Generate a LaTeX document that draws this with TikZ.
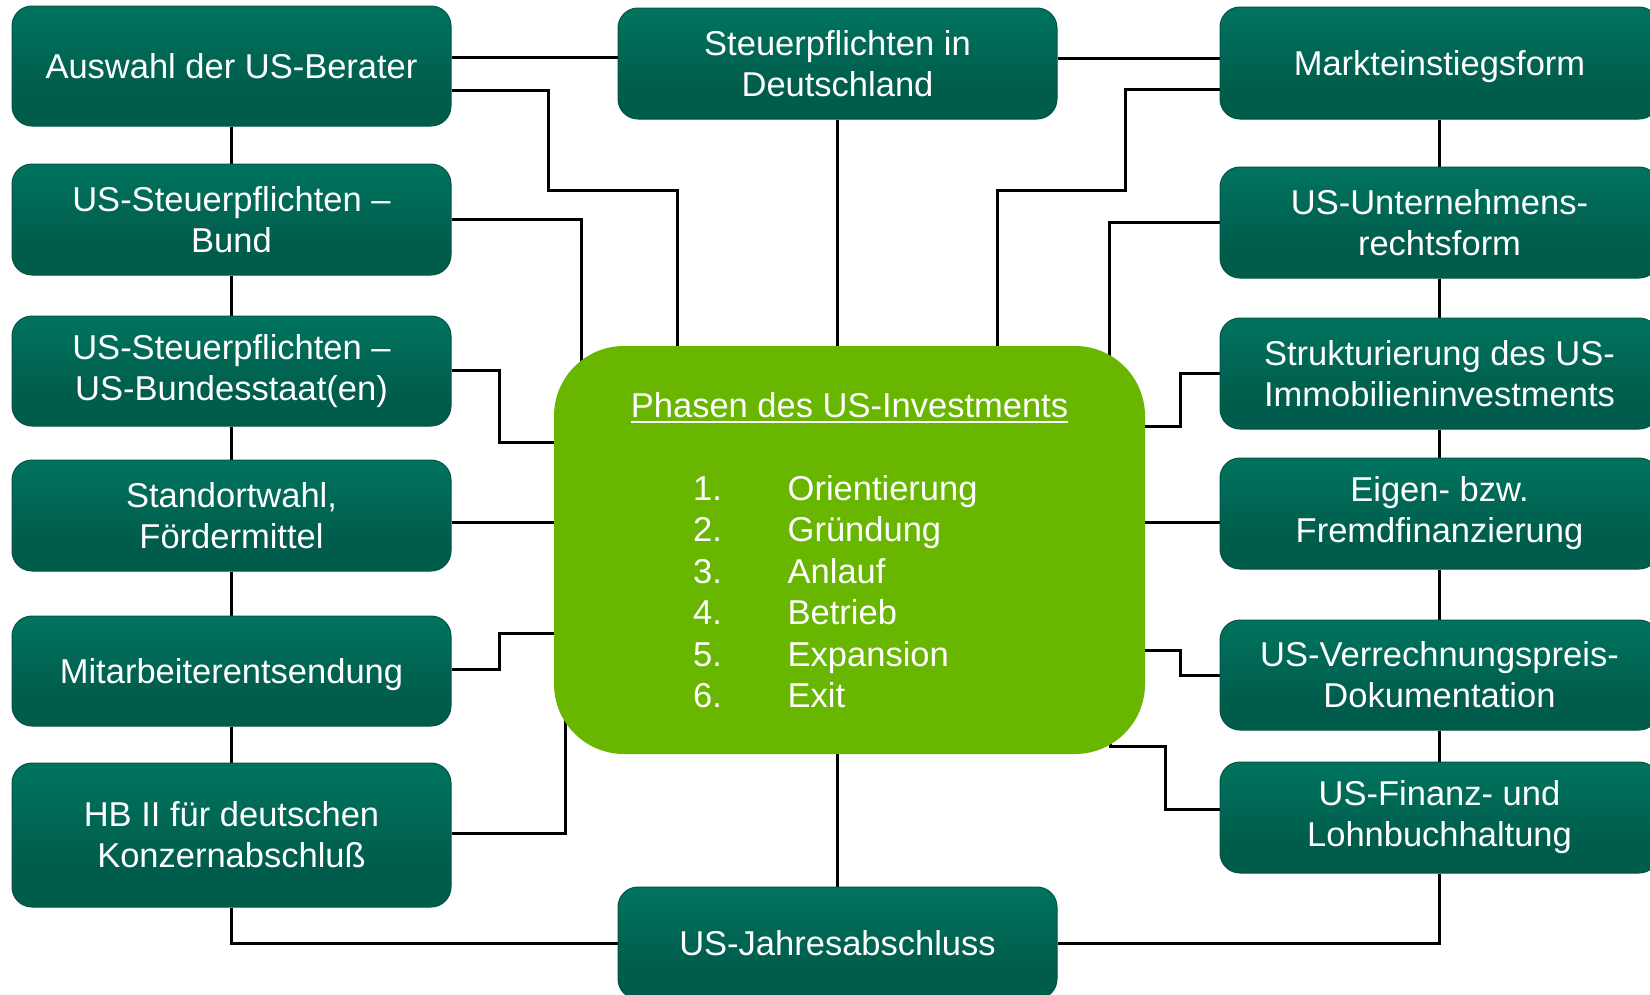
\documentclass[tikz,border=0pt]{standalone}
\usepackage{fontspec}
\setmainfont{Liberation Sans}
\usetikzlibrary{calc}
\pgfdeclarelayer{bg}
\pgfdeclarelayer{lines}
\pgfsetlayers{bg,lines,main}
\definecolor{tealtop}{RGB}{0,132,108}
\definecolor{tealbot}{RGB}{0,92,75}
\definecolor{tealedge}{RGB}{0,84,68}
\definecolor{phgreen}{RGB}{104,182,0}
\pgfdeclareverticalshading{tealgrad}{100bp}{color(0bp)=(tealbot); color(38bp)=(tealbot); color(100bp)=(tealtop)}
\begin{document}
\begin{tikzpicture}[x=1pt,y=-1pt,
  tbox/.style={rectangle, rounded corners=20pt, draw=tealedge, line width=1pt, shading=tealgrad, text=white, minimum width=439pt, inner sep=0pt, align=center, font=\fontsize{34.5}{41}\selectfont},
  conn/.style={line width=3pt, draw=black},
  vlink/.style={line width=2.3pt, draw=black},
  ctext/.style={text=white, inner sep=0pt, font=\fontsize{34.5}{41}\selectfont},
]
\useasboundingbox (0,0) rectangle (1650,994);
\begin{pgfonlayer}{bg}
\fill[white] (0,0) rectangle (1650,994);
\end{pgfonlayer}

% left column
\node[tbox, minimum height=120pt] (L1) at (231.5,66) {Auswahl der US-Berater};
\node[tbox, minimum height=111pt] (L2) at (231.5,219.5) {US-Steuerpflichten –\\Bund};
\node[tbox, minimum height=110pt] (L3) at (231.5,371) {US-Steuerpflichten –\\US-Bundesstaat(en)};
\node[tbox, minimum height=111pt] (L4) at (231.5,515.5) {Standortwahl,\\Fördermittel};
\node[tbox, minimum height=110pt, text depth=0pt] (L5) at (231.5,671) {Mitarbeiterentsendung};
\node[tbox, minimum height=144pt] (L6) at (231.5,835) {HB II für deutschen\\Konzernabschluß};
% middle column
\node[tbox, minimum height=111pt] (T) at (837.5,63.5) {Steuerpflichten in\\Deutschland};
\node[tbox, minimum height=112pt] (B) at (837.5,943) {US-Jahresabschluss};
% right column
\node[tbox, minimum height=112pt, text depth=0pt] (R1) at (1439.5,63) {Markteinstiegsform};
\node[tbox, minimum height=111pt] (R2) at (1439.5,222.5) {US-Unternehmens-\\rechtsform};
\node[tbox, minimum height=111pt] (R3) at (1439.5,373.5) {Strukturierung des US-\\Immobilieninvestments};
\node[tbox, minimum height=111pt] (R4) at (1439.5,513.5) {Eigen- bzw.\\Fremdfinanzierung};
\node[tbox, minimum height=110pt] (R5) at (1439.5,675) {US-Verrechnungspreis-\\Dokumentation};
\node[tbox, minimum height=111pt] (R6) at (1439.5,817.5) {US-Finanz- und\\Lohnbuchhaltung};

% centre
\node[fill=phgreen, rounded corners=70pt, minimum width=591pt, minimum height=408pt, inner sep=0pt] (C) at (849.5,550) {};
\node[ctext, anchor=base] (title) at (849.5,417) {Phasen des US-Investments};
\draw[white, line width=2.6pt] ($(title.base west)+(0,5)$) -- ($(title.base east)+(0,5)$);
\foreach \n/\t [count=\i] in {1./Orientierung, 2./Gründung, 3./Anlauf, 4./Betrieb, 5./Expansion, 6./Exit}{
  \node[ctext, anchor=base west] (num\i) at (693,{500+41.5*(\i-1)}) {\n};
  \node[ctext, anchor=base west] (item\i) at (787.5,{500+41.5*(\i-1)}) {\t};
}

\begin{pgfonlayer}{lines}
\draw[conn] (L1.east |- 0,57) -- (T.west |- 0,57);
\draw[conn] (L1.east |- 0,90) -| (548,190) -| (C.north -| 677,0);
\draw[conn] (L2.east |- 0,219) -| (C.center -| 581,0);
\draw[conn] (L3.east |- 0,370) -| (499,442) -- (C.west |- 0,442);
\draw[conn] (L4.east |- 0,522) -- (C.west |- 0,522);
\draw[conn] (L5.east |- 0,669) -| (499,633) -- (C.west |- 0,633);
\draw[conn] (L6.east |- 0,833) -| (C.center -| 565,0);
\draw[conn] (T.south) -- (T.south |- C.north);
\draw[conn] (B.north) -- (B.north |- C.south);
\draw[conn] (B.west) -| (L6.south);
\draw[conn] (B.east) -| (R6.south);
\draw[conn] (T.east |- 0,58) -- (R1.west |- 0,58);
\draw[conn] (R1.west |- 0,89) -| (1125,190) -| (C.north -| 997,0);
\draw[conn] (R2.west |- 0,222) -| (C.center -| 1109,0);
\draw[conn] (C.east |- 0,426) -| (1180,373.5) -- (R3.west);
\draw[conn] (C.east |- 0,522) -- (R4.west |- 0,522);
\draw[conn] (C.east |- 0,650) -| (1180,675) -- (R5.west);
\draw[conn] (C.center -| 1110,0) |- (1165,746) |- (R6.west |- 0,809);
\draw[vlink] (L1.south) -- (L2.north);
\draw[vlink] (L2.south) -- (L3.north);
\draw[vlink] (L3.south) -- (L4.north);
\draw[vlink] (L4.south) -- (L5.north);
\draw[vlink] (L5.south) -- (L6.north);
\draw[vlink] (R1.south) -- (R2.north);
\draw[vlink] (R2.south) -- (R3.north);
\draw[vlink] (R3.south) -- (R4.north);
\draw[vlink] (R4.south) -- (R5.north);
\draw[vlink] (R5.south) -- (R6.north);
\end{pgfonlayer}
\end{tikzpicture}
\end{document}
